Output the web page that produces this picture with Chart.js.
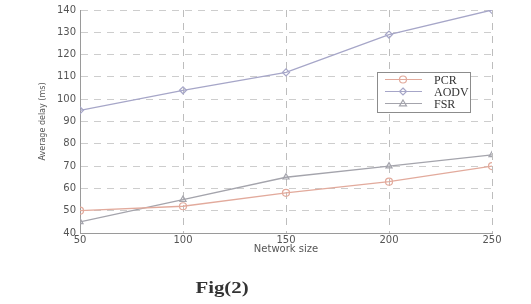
<!DOCTYPE html>
<html>
<head>
<meta charset="utf-8">
<script src="https://cdn.jsdelivr.net/npm/chart.js@4"></script>
<style>
  body { margin: 0; background: #fff; }
  .wrap { position: relative; width: 531px; height: 304px; }
  .fig {
    position: absolute; left: 172px; top: 279px; width: 100px;
    text-align: center; font: bold 16px 'Liberation Serif', serif; color: #333;
    transform: scaleX(1.3);
  }
</style>
</head>
<body>
<div class="wrap">
  <canvas id="myChart" width="531" height="304"></canvas>
  <div class="fig">Fig(2)</div>
</div>
<script>
const CHART = document.getElementById('myChart').getContext('2d');

const networkSize = [50, 100, 150, 200, 250];
const pcrDelay = [50, 52, 58, 63, 70];
const aodvDelay = [95, 104, 112, 129, 140];
const fsrDelay = [45, 55, 65, 70, 75];

const seriesNames = ['PCR', 'AODV', 'FSR'];
const seriesColors = ['#e2aa9c', '#a6a6c8', '#a4a4ac'];
const seriesMarkers = ['circle', 'rectRot', 'triangle'];

function toPoints(values) {
  return networkSize.map((x, i) => ({ x: x, y: values[i] }));
}

function makeDataset(i, values) {
  return {
    label: seriesNames[i],
    data: toPoints(values),
    borderColor: seriesColors[i],
    borderWidth: 1.3,
    pointStyle: seriesMarkers[i],
    pointRadius: 3.5,
    pointBorderColor: seriesColors[i],
    pointBackgroundColor: 'rgba(255,255,255,0)',
    pointBorderWidth: 1.2,
    tension: 0,
    fill: false,
  };
}

// marker shapes for the legend box
function drawMarker(ctx, style, x, y, r) {
  ctx.beginPath();
  if (style === 'circle') {
    ctx.arc(x, y, r, 0, Math.PI * 2);
  } else if (style === 'rectRot') {
    ctx.moveTo(x, y - r);
    ctx.lineTo(x + r, y);
    ctx.lineTo(x, y + r);
    ctx.lineTo(x - r, y);
    ctx.closePath();
  } else {
    ctx.moveTo(x, y - r);
    ctx.lineTo(x + r, y + r * 0.7);
    ctx.lineTo(x - r, y + r * 0.7);
    ctx.closePath();
  }
  ctx.stroke();
}

const insideLegend = {
  id: 'insideLegend',
  afterDraw(chart) {
    const ctx = chart.ctx;
    const boxX = 377, boxY = 72, boxW = 93, boxH = 40;
    ctx.save();
    ctx.fillStyle = '#fff';
    ctx.fillRect(boxX, boxY, boxW, boxH);
    ctx.strokeStyle = '#8c8c8c';
    ctx.lineWidth = 1;
    ctx.strokeRect(boxX + 0.5, boxY + 0.5, boxW, boxH);
    chart.data.datasets.forEach((ds, i) => {
      const y = 79.5 + i * 12;
      ctx.strokeStyle = ds.borderColor;
      ctx.lineWidth = 1.2;
      ctx.beginPath();
      ctx.moveTo(385, y);
      ctx.lineTo(422, y);
      ctx.stroke();
      drawMarker(ctx, ds.pointStyle, 403, y, 3.5);
      ctx.fillStyle = '#333';
      ctx.font = "12px 'Liberation Serif', serif";
      ctx.textBaseline = 'middle';
      ctx.fillText(ds.label, 434, y + 1);
    });
    ctx.restore();
  },
};

const tickFont = { family: "'DejaVu Sans', sans-serif", size: 10 };

let delayChart = new Chart(CHART, {
  type: 'line',
  data: {
    datasets: [
      makeDataset(0, pcrDelay),
      makeDataset(1, aodvDelay),
      makeDataset(2, fsrDelay),
    ],
  },
  options: {
    responsive: false,
    animation: false,
    layout: { padding: { left: 30, right: 39, top: 9, bottom: 49 } },
    plugins: { legend: { display: false }, tooltip: { enabled: false } },
    scales: {
      x: {
        type: 'linear',
        min: 50,
        max: 250,
        afterFit: (scale) => { scale.height = 22; },
        ticks: { stepSize: 50, padding: 1, color: '#555', font: tickFont },
        grid: { color: '#bdbdbd', drawTicks: false },
        border: { display: true, color: '#9a9a9a', dash: [7, 6] },
        title: {
          display: true,
          text: 'Network size',
          color: '#555',
          font: { family: "'DejaVu Sans', sans-serif", size: 10 },
          padding: { top: 0, bottom: 0 },
        },
      },
      y: {
        min: 40,
        max: 140,
        afterFit: (scale) => { scale.width = 50; },
        ticks: { stepSize: 10, padding: 4, color: '#555', font: tickFont },
        grid: { color: '#cdcdcd', drawTicks: false },
        border: { display: true, color: '#9a9a9a', dash: [7, 6] },
        title: {
          display: true,
          text: 'Average delay (ms)',
          color: '#555',
          font: { family: "'DejaVu Sans', sans-serif", size: 8 },
          padding: { top: 8, bottom: 0 },
        },
      },
    },
  },
  plugins: [insideLegend],
});
</script>
</body>
</html>
